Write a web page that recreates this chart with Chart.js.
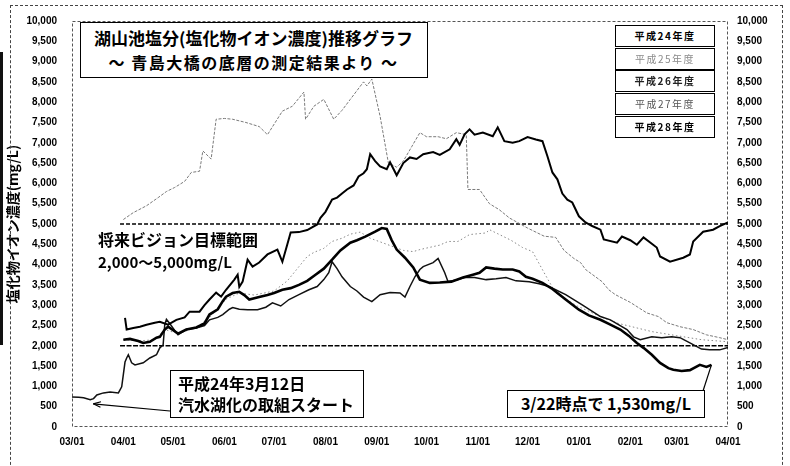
<!DOCTYPE html>
<html><head><meta charset="utf-8">
<script src="https://cdn.jsdelivr.net/npm/chart.js@4"></script>
<style>
body{margin:0;background:#fff;}
#wrap{position:relative;width:790px;height:466px;overflow:hidden;font-family:"Noto Sans CJK JP",sans-serif;background:#fff;}
#c{position:absolute;left:0;top:0;}
.ov{position:absolute;box-sizing:border-box;font-weight:700;color:#000;white-space:nowrap;}
.bx{border:1.5px solid #000;background:#fff;}
.lg{position:absolute;left:615px;width:100px;height:22px;border:1.5px solid #000;background:#fff;box-sizing:border-box;font-size:10px;line-height:19px;text-align:center;letter-spacing:1.5px;white-space:nowrap;}
</style></head>
<body>
<div id="wrap">
<canvas id="c" width="790" height="466"></canvas>
<div class="ov" style="left:10px;top:5px;width:773px;height:480px;border:1px dashed #444;border-bottom:none;"></div>
<div class="ov" style="left:0;top:52px;width:3px;height:293px;background:#111;"></div>
<div class="ov bx" style="left:80px;top:22px;width:348px;height:56px;">
  <div class="ov" style="left:0;width:345px;top:3px;text-align:center;font-size:17px;line-height:24px;">湖山池塩分(塩化物イオン濃度)推移グラフ</div>
  <div class="ov" style="left:0;width:345px;top:27px;text-align:center;font-size:16px;line-height:24px;letter-spacing:1.5px;">～ 青島大橋の底層の測定結果より ～</div>
</div>
<div id="legend"></div>
<div class="ov" style="left:98px;top:228px;font-size:16px;line-height:22px;">将来ビジョン目標範囲</div>
<div class="ov" style="left:98px;top:252px;font-size:15px;line-height:20px;">2,000～5,000mg/L</div>
<div class="ov bx" style="left:170px;top:370px;width:194px;height:48px;">
  <div class="ov" style="left:7px;top:2px;font-size:16px;line-height:21px;">平成24年3月12日</div>
  <div class="ov" style="left:7px;top:23px;font-size:16px;line-height:21px;">汽水湖化の取組スタート</div>
</div>
<div class="ov bx" style="left:507px;top:390px;width:198px;height:28px;font-size:16px;line-height:25px;text-align:center;">3/22時点で 1,530mg/L</div>
</div>
<script>
// ---- axis ----
const tickDays = [0,31,61,92,122,153,184,214,245,275,306,337,365,396];
const tickLabels = ['03/01','04/01','05/01','06/01','07/01','08/01','09/01','10/01','11/01','12/01','01/01','02/01','03/01','04/01'];
const yTitle = '塩化物イオン濃度(mg/L)';
const seriesNames = ['平成24年度','平成25年度','平成26年度','平成27年度','平成28年度'];

// ---- series (x = days since 03/01, y = mg/L) ----
const h24Days = [0,4,7,11,13,15,19,23,28,30,32,33,34,36,38,43,47,51,53,55,56,57,59,62,64,69,75,80,83,88,91,95,97,101,106,112,117,121,126,131,137,143,148,152,155,157,160,163,168,172,176,181,186,192,198,201,204,207,210,212,218,221,225,227,232,237,243,250,256,262,268,276,282,288,298,308,319,325,335,339,343,350,356,362,367,373,380,385,391,396];
const h24Values = [740,730,720,670,700,790,840,860,840,990,1600,1700,1780,1580,1530,1580,1700,1780,1950,2020,2520,2650,2550,2380,2270,2400,2440,2500,2640,2700,2770,2900,2940,2900,2890,2890,2950,3060,2980,3140,3260,3380,3460,3630,3800,4070,3900,3700,3460,3350,3200,3090,3260,3310,3300,3200,3460,3700,3880,3950,4050,4150,3800,3580,3620,3680,3680,3630,3650,3680,3600,3580,3530,3460,3260,3010,2720,2640,2400,2220,2150,2220,2200,2220,2200,2070,1920,1900,1900,1960];

const h25Days = [31,40,50,56,64,75,83,93,101,110,122,130,137,142,146,152,157,163,168,174,180,190,200,206,210,222,227,233,240,250,252,258,265,272,278,285,292,298,305,312,320,330,340,350,365,380,396];
const h25Values = [2150,2120,2150,2400,2300,2450,2700,3150,3300,3250,3350,3600,3950,4200,4300,4400,4570,4650,4750,4800,4650,4500,4350,4320,4370,4480,4570,4570,4740,4780,4860,4740,4600,4420,4320,3800,3300,3150,2980,2850,2700,2550,2450,2350,2250,2150,2100];

const h26Days = [32,33,37,41,45,50,53,58,63,68,71,77,80,83,87,90,93,98,100,101,103,106,109,113,118,124,127,130,132,137,142,148,150,153,157,160,163,166,170,173,176,178,180,183,186,190,192,196,200,204,208,212,218,222,228,232,234,237,240,243,248,254,257,261,266,270,275,280,284,287,290,293,296,299,302,306,310,314,319,321,329,332,337,341,345,353,355,361,369,373,375,381,387,391,396];
const h26Values = [2690,2400,2440,2470,2520,2570,2590,2520,2640,2700,2840,2840,3000,3140,3310,3210,3380,3630,3750,3450,3580,4120,3950,4050,4250,4370,4070,4500,4790,4800,4850,4990,5150,5300,5600,5650,5750,5850,5950,6170,6250,6350,6720,6550,6420,6350,6520,6200,6500,6640,6600,6720,6770,6700,6840,7090,6950,7210,7330,7200,7250,7160,7380,7040,7000,7040,7140,7080,7040,6670,6270,6100,5750,5600,5530,5190,5040,4950,4860,4620,4540,4690,4600,4490,4670,4420,4200,4070,4170,4250,4570,4810,4860,4950,5040];

const h27Days = [31,37,45,52,57,62,68,72,77,79,84,87,92,97,105,113,118,127,133,140,141,146,152,158,163,168,176,178,181,183,186,191,196,200,205,210,214,221,226,232,238,239,246,252,258,264,275,285,292,297,303,307,310,320,324,328,337,347,354,359,367,375,383,391,396];
const h27Values = [5110,5280,5450,5650,5800,5900,6050,6270,6300,6800,6600,7580,7600,7580,7500,7400,7200,7780,7900,8250,7580,7900,8070,7580,7800,8070,8500,8400,8570,8200,7650,6500,6400,6550,6900,7250,7150,7150,7100,7250,7200,5850,5850,5500,5350,5150,4900,4700,4670,4350,4150,4050,3880,3580,3380,3260,3070,2810,2720,2570,2470,2400,2270,2200,2150];

const h28Days = [31,35,40,43,47,51,53,56,58,64,69,75,80,83,88,91,93,97,101,104,107,113,118,122,127,132,137,142,147,152,157,162,168,172,177,183,187,190,193,196,201,206,210,216,222,229,236,242,246,250,255,260,266,270,274,278,284,290,298,306,312,319,325,331,336,341,345,350,355,360,363,368,373,379,383,386];
const h28Values = [2150,2170,2120,2070,2100,2200,2220,2400,2470,2300,2400,2450,2550,2770,2900,3100,3210,3300,3330,3250,3140,3200,3250,3300,3380,3420,3500,3600,3750,3900,4120,4350,4540,4600,4690,4810,4900,4880,4600,4370,4170,3930,3630,3550,3560,3580,3680,3750,3800,3930,3900,3880,3880,3830,3700,3650,3550,3400,3140,2890,2750,2640,2520,2400,2250,2070,1950,1780,1580,1450,1410,1380,1400,1530,1480,1530];

// target range lines
const rangeDays = [29,396];
const rangeUpper = [5000,5000];
const rangeLower = [2000,2000];

// annotation anchors (data points)
const startDay = 11;   // 3/12
const endDay = 386;    // 3/22

const pts = (d,v) => d.map((x,i)=>({x:x,y:v[i]}));

// legend boxes
const legendStyles = [
  {top:25, color:'#000', weight:700},
  {top:48, color:'#8a8a8a', weight:400},
  {top:70, color:'#222', weight:700},
  {top:93, color:'#555', weight:400},
  {top:116, color:'#000', weight:700}
];
const lg = document.getElementById('legend');
seriesNames.forEach((n,i)=>{
  const d = document.createElement('div');
  d.className='lg';
  d.style.top = legendStyles[i].top+'px';
  d.style.color = legendStyles[i].color;
  d.style.fontWeight = legendStyles[i].weight;
  d.textContent = n;
  lg.appendChild(d);
});

const annPlugin = {
  id:'ann',
  beforeDatasetsDraw(chart){
    const {ctx, chartArea:a} = chart;
    ctx.save();
    ctx.strokeStyle='#555'; ctx.lineWidth=1; ctx.setLineDash([3,2]);
    ctx.strokeRect(a.left+0.5, a.top+0.5, a.right-a.left-1, a.bottom-a.top-1);
    ctx.restore();
  },
  afterDatasetsDraw(chart){
    const {ctx, scales} = chart;
    const x = scales.x, y = scales.y;
    ctx.save();
    ctx.strokeStyle='#000'; ctx.fillStyle='#000'; ctx.lineWidth=1.2; ctx.setLineDash([]);
    const si = h24Days.indexOf(startDay);
    const tx = x.getPixelForValue(h24Days[si])+3, ty = y.getPixelForValue(h24Values[si])+4;
    const fx = 170, fy = 411;
    ctx.beginPath(); ctx.moveTo(fx,fy); ctx.lineTo(tx,ty); ctx.stroke();
    const ang = Math.atan2(ty-fy, tx-fx);
    ctx.beginPath();
    ctx.moveTo(tx,ty);
    ctx.lineTo(tx-8*Math.cos(ang-0.35), ty-8*Math.sin(ang-0.35));
    ctx.moveTo(tx,ty);
    ctx.lineTo(tx-8*Math.cos(ang+0.35), ty-8*Math.sin(ang+0.35));
    ctx.stroke();
    const ei = h28Days.indexOf(endDay);
    const ex = x.getPixelForValue(h28Days[ei]), ey = y.getPixelForValue(h28Values[ei]);
    ctx.beginPath(); ctx.moveTo(703,391); ctx.lineTo(ex,ey); ctx.stroke();
    ctx.restore();
  }
};

const tickFont = {family:'"Liberation Sans", Arial, sans-serif', size:10, weight:'bold'};
const fmt = v => Number(v).toLocaleString('en-US');

new Chart(document.getElementById('c'), {
  type:'line',
  data:{datasets:[
    {label:seriesNames[4], data:pts(h28Days,h28Values), borderColor:'#000', borderWidth:2.6},
    {label:seriesNames[2], data:pts(h26Days,h26Values), borderColor:'#000', borderWidth:2},
    {label:seriesNames[0], data:pts(h24Days,h24Values), borderColor:'#111', borderWidth:1.5},
    {label:seriesNames[1], data:pts(h25Days,h25Values), borderColor:'#888', borderWidth:1, borderDash:[1.5,2.5]},
    {label:seriesNames[3], data:pts(h27Days,h27Values), borderColor:'#7a7a7a', borderWidth:1, borderDash:[3,1.5]},
    {label:'upper', data:pts(rangeDays,rangeUpper), borderColor:'#000', borderWidth:1.6, borderDash:[4,2]},
    {label:'lower', data:pts(rangeDays,rangeLower), borderColor:'#000', borderWidth:1.6, borderDash:[5,1.5]}
  ]},
  options:{
    responsive:false, animation:false,
    layout:{padding:{top:21,left:0,right:0,bottom:0}},
    elements:{point:{radius:0}, line:{tension:0, fill:false}},
    plugins:{legend:{display:false}, tooltip:{enabled:false}},
    scales:{
      x:{type:'linear', min:0, max:396,
         afterBuildTicks:s=>{ s.ticks = tickDays.map(v=>({value:v})); },
         afterFit:s=>{ s.height = 39; },
         ticks:{font:tickFont, color:'#000', padding:9, maxRotation:0, autoSkip:false,
                callback:(v)=>{ const i = tickDays.indexOf(v); return i>=0 ? tickLabels[i] : ''; }},
         grid:{display:false, drawTicks:false}, border:{display:false}},
      y:{type:'linear', position:'left', min:0, max:10000,
         afterFit:s=>{ s.width = 72; },
         ticks:{stepSize:500, font:tickFont, color:'#000', padding:15, callback:fmt},
         title:{display:true, text:yTitle, color:'#000', padding:{top:4,bottom:0},
                font:{family:'"Noto Sans CJK JP", sans-serif', size:14, weight:'bold'}},
         grid:{display:false, drawTicks:false}, border:{display:false}},
      y2:{type:'linear', position:'right', min:0, max:10000,
         afterFit:s=>{ s.width = 62; },
         ticks:{stepSize:500, font:tickFont, color:'#000', padding:9, callback:fmt},
         grid:{display:false, drawTicks:false}, border:{display:false}}
    }
  },
  plugins:[annPlugin]
});
</script>
</body></html>
